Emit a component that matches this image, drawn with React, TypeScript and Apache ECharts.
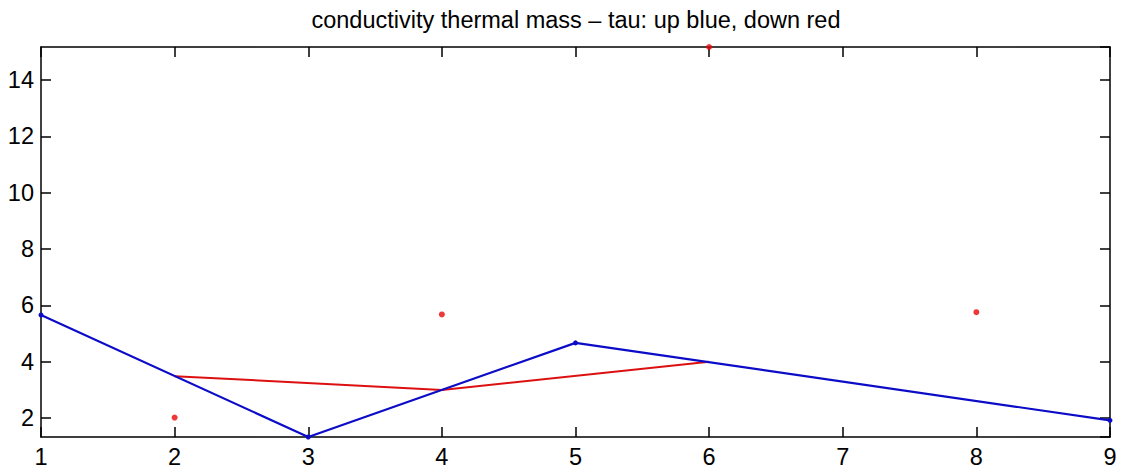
import React, { useEffect, useRef } from "react";
import * as echarts from "echarts";

const titleText = "conductivity thermal mass \u2013 tau: up blue, down red";
const xTicks = [1, 2, 3, 4, 5, 6, 7, 8, 9];
const yTicks = [2, 4, 6, 8, 10, 12, 14];
const upX = [1, 3, 5, 9];
const upTau = [5.66, 1.33, 4.67, 1.92];
const downLineX = [2, 4, 6];
const downLineTau = [3.49, 3.0, 4.0];
const downDotX = [2, 4, 6, 8];
const downDotTau = [2.02, 5.68, 15.17, 5.76];
const yMin = 1.33;
const yMax = 15.17;

const FONT = "'Liberation Sans', Arial, Helvetica, sans-serif";

export default function App() {
  const ref = useRef<HTMLDivElement>(null);
  useEffect(() => {
    if (!ref.current) return;
    const chart = echarts.init(ref.current, null, { renderer: "svg" });
    const axisLine = { show: true, lineStyle: { color: "#000", width: 1.5 } };
    const tick = { show: true, inside: true, length: 10, lineStyle: { color: "#000", width: 1.5 } };
    const yFmt = (v: number) => (yTicks.indexOf(Math.round(v * 1000) / 1000) >= 0 ? String(v) : "");
    chart.setOption({
      animation: false,
      backgroundColor: "#fff",
      title: {
        text: titleText,
        left: 576,
        textAlign: "center",
        top: 8,
        padding: 0,
        textStyle: { fontFamily: FONT, fontSize: 23.5, fontWeight: "normal", color: "#000" },
      },
      grid: { left: 41, right: 14, top: 47, bottom: 36, containLabel: false },
      xAxis: [
        {
          type: "value",
          min: xTicks[0],
          max: xTicks[xTicks.length - 1],
          interval: 1,
          position: "bottom",
          axisLine,
          axisTick: tick,
          splitLine: { show: false },
          axisLabel: { color: "#000", fontFamily: FONT, fontSize: 23.5, margin: 8 },
        },
        {
          type: "value",
          min: xTicks[0],
          max: xTicks[xTicks.length - 1],
          interval: 1,
          position: "top",
          axisLine,
          axisTick: tick,
          splitLine: { show: false },
          axisLabel: { show: false },
        },
      ],
      yAxis: [
        {
          type: "value",
          min: yMin,
          max: yMax,
          splitNumber: 7,
          position: "left",
          axisLine,
          axisTick: tick,
          splitLine: { show: false },
          axisLabel: {
            color: "#000",
            fontFamily: FONT,
            fontSize: 23.5,
            margin: 7,
            showMinLabel: false,
            showMaxLabel: false,
            formatter: yFmt,
          },
        },
        {
          type: "value",
          min: yMin,
          max: yMax,
          splitNumber: 7,
          position: "right",
          axisLine,
          axisTick: tick,
          splitLine: { show: false },
          axisLabel: { show: false },
        },
      ],
      series: [
        {
          type: "line",
          name: "up",
          data: upX.map((x, i) => [x, upTau[i]]),
          lineStyle: { color: "#0c0cc8", width: 2.2 },
          itemStyle: { color: "#0c0cc8" },
          symbol: "circle",
          symbolSize: 5,
          showSymbol: true,
          clip: false,
          z: 3,
        },
        {
          type: "line",
          name: "down",
          data: downLineX.map((x, i) => [x, downLineTau[i]]),
          lineStyle: { color: "#dc1010", width: 2 },
          itemStyle: { color: "#dc1010" },
          showSymbol: false,
          symbol: "none",
          z: 2,
        },
        {
          type: "scatter",
          name: "down points",
          data: downDotX.map((x, i) => [x, downDotTau[i]]),
          itemStyle: { color: "#e80808" },
          symbol: "circle",
          symbolSize: 6,
          clip: false,
          z: 4,
        },
      ],
    });
    return () => chart.dispose();
  }, []);
  return <div ref={ref} style={{ width: 1124, height: 473, position: "absolute", left: 0, top: 0 }} />;
}
